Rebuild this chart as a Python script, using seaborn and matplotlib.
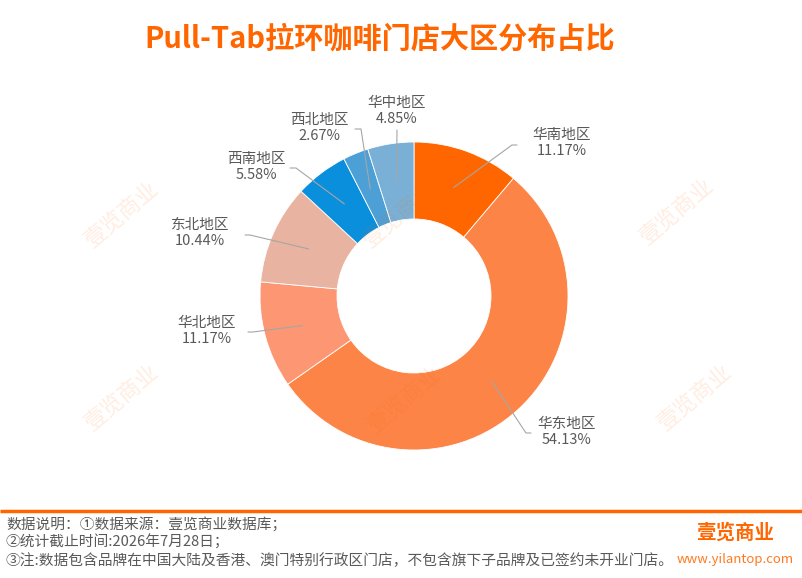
import numpy as np
import matplotlib
matplotlib.use("Agg")
import matplotlib.pyplot as plt
import seaborn as sns

# Data
regions = ["华南地区", "华东地区", "华北地区", "东北地区", "西南地区", "西北地区", "华中地区"]
shares = [11.17, 54.13, 11.17, 10.44, 5.58, 2.67, 4.85]
slice_colors = ["#FF6600", "#FC8446", "#FC9673", "#E8B3A0", "#0A8FDD", "#4DA0D6", "#7AB0D5"]

title = "Pull-Tab拉环咖啡门店大区分布占比"
notes = [
    "数据说明：①数据来源：壹览商业数据库；",
    "②统计截止时间:2026年7月28日；",
    "③注:数据包含品牌在中国大陆及香港、澳门特别行政区门店，不包含旗下子品牌及已签约未开业门店。",
]

W, H = 803, 578
ORANGE = "#FF6600"
GREY = "#595959"

# label text centres and leader-line ends (image pixels, y down)
label_pos = [(562, 143), (567, 432), (207, 331), (200, 233), (256, 167), (319, 128), (397, 111)]
line_end = [(517, 145), (531, 433), (248, 332), (245, 235), (290, 168), (355, 129), (397, 130)]
stub = [5, 5, 5, 5, 6, 6, 0]

sns.set_theme(style="white")
plt.rcParams['font.family'] = ['Noto Sans CJK SC', 'DejaVu Sans']

fig = plt.figure(figsize=(W / 100, H / 100), dpi=100)
ax = fig.add_axes([0, 0, 1, 1])


def py(y):
    return H - y


palette = sns.color_palette(slice_colors)
radius = 154
center = (414, py(296))
wedges, _ = ax.pie(shares, colors=palette, startangle=90, counterclock=False,
                   radius=radius, center=center, frame=True,
                   wedgeprops=dict(width=radius * 0.5, edgecolor="white", linewidth=0.6))
ax.set_xlim(0, W)
ax.set_ylim(0, H)
ax.set_aspect("equal")
ax.axis("off")

# labels with leader lines
for w, name, val, (tx, ty), (lx, ly), s in zip(wedges, regions, shares, label_pos, line_end, stub):
    mid = np.deg2rad((w.theta1 + w.theta2) / 2)
    ax_x = center[0] + 0.75 * radius * np.cos(mid)
    ax_y = center[1] + 0.75 * radius * np.sin(mid)
    side = 1 if lx > ax_x else -1
    xs = [ax_x, lx - side * s, lx] if s else [ax_x, lx]
    ys = [ax_y, py(ly), py(ly)] if s else [ax_y, py(ly)]
    ax.plot(xs, ys, color="#A6A6A6", lw=0.8, zorder=3)
    ax.text(tx, py(ty), f"{name}\n{val:.2f}%", ha="center", va="center",
            fontsize=10.5, color=GREY, linespacing=1.25, zorder=4)

# watermarks
for wx, wy in [(122, 215), (400, 215), (677, 212), (122, 398), (405, 400), (695, 398)]:
    ax.text(wx, py(wy), "壹览商业", rotation=40, ha="center", va="center",
            fontsize=16, color=ORANGE, alpha=0.12, zorder=5)

# title
fig.text(380 / W, 1 - 38 / H, title, ha="center", va="center",
         fontsize=21, fontweight="bold", color=ORANGE)

# footer
ax.plot([0, W], [py(511), py(511)], color=ORANGE, lw=2.5, solid_capstyle="butt", clip_on=False)
for i, line in enumerate(notes):
    ax.text(6, py(524 + i * 18.5), line, ha="left", va="center", fontsize=10.6, color=GREY)

ax.text(735, py(533), "壹览商业", ha="center", va="center", fontsize=14,
        fontweight="bold", color=ORANGE)
ax.text(735, py(560), "www.yilantop.com", ha="center", va="center", fontsize=9.5,
        color="#FF7A1F")

fig.savefig("out.png", dpi=100)
